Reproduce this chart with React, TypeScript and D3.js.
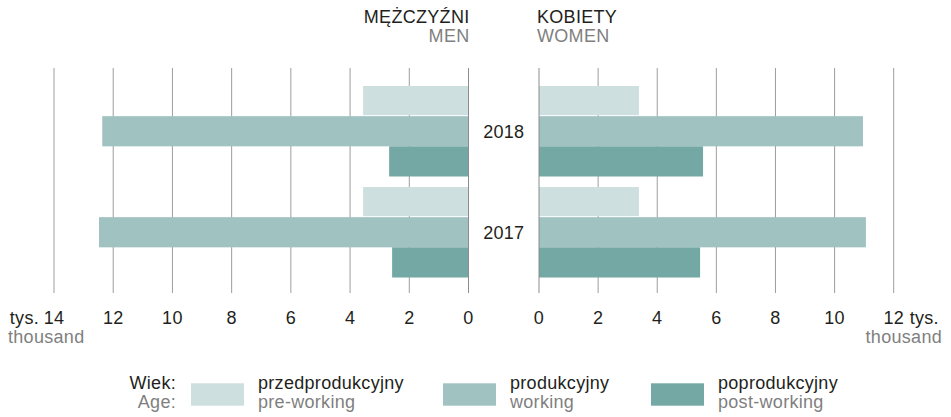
import React from 'react'
import * as d3 from 'd3'

// ================================================================== //
// Data (tys. / thousand)

const years = ["2018", "2017"]
const ageKeys = ["pre", "working", "post"]
const ageLabelsPl = ["przedprodukcyjny", "produkcyjny", "poprodukcyjny"]
const ageLabelsEn = ["pre-working", "working", "post-working"]
const ageColors = ["#cddfde", "#a0c2c1", "#74a8a4"]

// order: pre, working, post
const men2018 = [3.56, 12.37, 2.68]
const men2017 = [3.56, 12.48, 2.58]
const women2018 = [3.38, 10.96, 5.55]
const women2017 = [3.38, 11.06, 5.45]

const menTicks = [0, 2, 4, 6, 8, 10, 12, 14]
const womenTicks = [0, 2, 4, 6, 8, 10, 12]

// ================================================================== //

const W = 951
const H = 417
const FONT = "'Liberation Sans', Arial, sans-serif"
const FS = 18
const LS = 0.3
const DARK = "#231f20"
const GREY = "#7f7f7f"
const GRID = "#9d9d9d"

const gridTop = 68
const gridBottom = 293

const App = () => {
    const men = [men2018, men2017]
    const women = [women2018, women2017]

    const xMen = d3.scaleLinear().domain([0, 14]).range([468.5, 54])
    const xWomen = d3.scaleLinear().domain([0, 12]).range([539, 893.7])

    const yGroup = d3.scaleBand()
        .domain(years)
        .range([86, 277.5])
        .paddingInner(0.104)
        .paddingOuter(0)
    const yAge = d3.scaleBand()
        .domain(ageKeys)
        .range([0, yGroup.bandwidth()])

    const legendX = [191, 443, 651]
    const tickY = 324

    return (
        <svg width={W} height={H} style={{ position: "absolute", left: 0, top: 0 }}
            fontFamily={FONT} fontSize={FS} letterSpacing={LS}>
            {/* titles */}
            <text x={469.5} y={22.5} textAnchor="end" fill={DARK}>MĘŻCZYŹNI</text>
            <text x={469.5} y={41.7} textAnchor="end" fill={GREY}>MEN</text>
            <text x={537} y={22.5} textAnchor="start" fill={DARK}>KOBIETY</text>
            <text x={537} y={41.7} textAnchor="start" fill={GREY}>WOMEN</text>

            {/* grid */}
            <g stroke={GRID} strokeWidth={1}>
                {menTicks.filter(t => t > 0).map(t => (
                    <line key={"mg" + t} x1={xMen(t)} x2={xMen(t)} y1={gridTop} y2={gridBottom} />
                ))}
                {womenTicks.filter(t => t > 0).map(t => (
                    <line key={"wg" + t} x1={xWomen(t)} x2={xWomen(t)} y1={gridTop} y2={gridBottom} />
                ))}
            </g>

            {/* bars */}
            {years.map((yr, yi) => (
                <g key={yr} transform={`translate(0, ${yGroup(yr)})`}>
                    {ageKeys.map((k, ai) => (
                        <rect key={"m" + k}
                            x={xMen(men[yi][ai])}
                            y={yAge(k)}
                            width={xMen(0) - xMen(men[yi][ai])}
                            height={yAge.bandwidth() - (ai === 0 ? 1 : 0)}
                            fill={ageColors[ai]} />
                    ))}
                    {ageKeys.map((k, ai) => (
                        <rect key={"w" + k}
                            x={xWomen(0)}
                            y={yAge(k)}
                            width={xWomen(women[yi][ai]) - xWomen(0)}
                            height={yAge.bandwidth() - (ai === 0 ? 1 : 0)}
                            fill={ageColors[ai]} />
                    ))}
                    <text x={(xMen(0) + xWomen(0)) / 2}
                        y={(yAge("working") as number) + yAge.bandwidth() / 2 + 6.5}
                        textAnchor="middle" fill={DARK}>{yr}</text>
                </g>
            ))}

            {/* zero lines on top */}
            <g stroke="#8c8c8c" strokeWidth={1}>
                <line x1={xMen(0)} x2={xMen(0)} y1={gridTop} y2={gridBottom} />
                <line x1={xWomen(0)} x2={xWomen(0)} y1={gridTop} y2={gridBottom} />
            </g>

            {/* tick labels */}
            <g fill={DARK} textAnchor="middle">
                {menTicks.map(t => (
                    <text key={"ml" + t} x={xMen(t)} y={tickY}>{t}</text>
                ))}
                {womenTicks.map(t => (
                    <text key={"wl" + t} x={xWomen(t)} y={tickY}>{t}</text>
                ))}
            </g>
            <text x={xMen(14) - 15} y={tickY} textAnchor="end" fill={DARK}>tys.</text>
            <text x={8} y={343} textAnchor="start" fill={GREY}>thousand</text>
            <text x={xWomen(12) + 16} y={tickY} textAnchor="start" fill={DARK}>tys.</text>
            <text x={942} y={343} textAnchor="end" fill={GREY}>thousand</text>

            {/* legend */}
            <text x={176} y={388.5} textAnchor="end" fill={DARK}>Wiek:</text>
            <text x={176} y={408} textAnchor="end" fill={GREY}>Age:</text>
            {ageKeys.map((k, i) => (
                <g key={"lg" + k} transform={`translate(${legendX[i]}, 0)`}>
                    <rect x={0} y={383.3} width={53} height={22.4} fill={ageColors[i]} />
                    <text x={67} y={388.5} fill={DARK}>{ageLabelsPl[i]}</text>
                    <text x={67} y={408} fill={GREY}>{ageLabelsEn[i]}</text>
                </g>
            ))}
        </svg>
    )
}

export default App
